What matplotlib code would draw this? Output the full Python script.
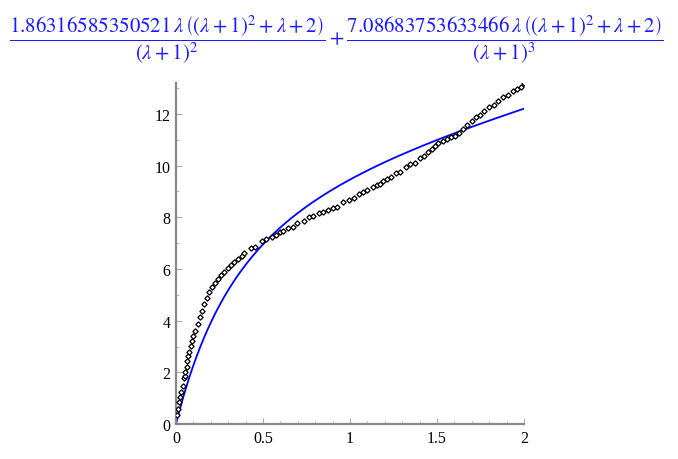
import numpy as np
import matplotlib
matplotlib.use("Agg")
import matplotlib.pyplot as plt
from matplotlib.ticker import MultipleLocator

# coefficients shown in the fitted formula
a_coef = 1.86316585350521
b_coef = 7.08683753633466

# measured points (black diamonds)
lam_pts = [0.004, 0.01, 0.015, 0.023, 0.029, 0.04, 0.046, 0.05, 0.054, 0.061,
           0.063, 0.069, 0.075, 0.088, 0.092, 0.10, 0.109, 0.125, 0.138, 0.148,
           0.163, 0.176, 0.19, 0.205, 0.224, 0.24, 0.259, 0.278, 0.297, 0.316,
           0.335, 0.358, 0.378, 0.393, 0.429, 0.454, 0.492, 0.517, 0.55, 0.575,
           0.598, 0.617, 0.645, 0.674, 0.697, 0.736, 0.766, 0.79, 0.82, 0.845,
           0.876, 0.9, 0.925, 0.962, 0.996, 1.023, 1.05, 1.072, 1.1, 1.13,
           1.153, 1.172, 1.19, 1.21, 1.235, 1.264, 1.287, 1.322, 1.345, 1.374,
           1.402, 1.425, 1.45, 1.469, 1.489, 1.508, 1.533, 1.556, 1.579, 1.603,
           1.628, 1.651, 1.674, 1.699, 1.724, 1.747, 1.77, 1.8, 1.828, 1.852,
           1.881, 1.91, 1.939, 1.962, 1.981, 2.0]
val_pts = [0.35, 0.58, 0.84, 1.03, 1.23, 1.48, 1.77, 1.87, 2.0, 2.19,
           2.45, 2.64, 2.8, 3.03, 3.22, 3.42, 3.61, 3.87, 4.13, 4.39,
           4.65, 4.87, 5.12, 5.29, 5.46, 5.61, 5.77, 5.9, 6.03, 6.16,
           6.28, 6.39, 6.49, 6.62, 6.81, 6.86, 7.1, 7.16, 7.25, 7.33,
           7.42, 7.48, 7.59, 7.64, 7.78, 7.86, 8.0, 8.07, 8.18, 8.19,
           8.3, 8.35, 8.39, 8.58, 8.68, 8.75, 8.92, 8.97, 9.07, 9.16,
           9.25, 9.29, 9.4, 9.47, 9.57, 9.73, 9.77, 9.94, 10.07, 10.1,
           10.28, 10.38, 10.51, 10.65, 10.78, 10.86, 10.95, 11.03, 11.1, 11.16,
           11.25, 11.42, 11.59, 11.74, 11.9, 11.97, 12.13, 12.26, 12.36, 12.49,
           12.64, 12.75, 12.88, 12.97, 13.06, 13.19]

x_ticks = [0, 0.5, 1, 1.5, 2]
x_tick_labels = ["0", "0.5", "1", "1.5", "2"]
y_ticks = [0, 2, 4, 6, 8, 10, 12]

# fitted curve from the formula in the title
lam = np.linspace(0, 2, 400)
core = lam * ((lam + 1) ** 2 + lam + 2)
fit = a_coef * core / (lam + 1) ** 2 + b_coef * core / (lam + 1) ** 3

plt.rcParams["mathtext.fontset"] = "stix"
plt.rcParams["font.family"] = ["Liberation Serif", "DejaVu Serif"]

fig = plt.figure(figsize=(6.78, 4.6), dpi=100)
ax = fig.add_axes([176 / 678, 35 / 460, 348 / 678, 341 / 460])

ax.plot(lam_pts, val_pts, linestyle="none", marker="D", markersize=2.7,
        markerfacecolor="white", markeredgecolor="black", markeredgewidth=0.9,
        zorder=3)
ax.plot(lam, fit, color="#0000ff", linewidth=1.3, zorder=2)

ax.set_xlim(0, 2)
ax.set_ylim(0, 13.2)
ax.set_xticks(x_ticks)
ax.set_xticklabels(x_tick_labels)
ax.set_yticks(y_ticks)
ax.xaxis.set_minor_locator(MultipleLocator(0.1))
ax.yaxis.set_minor_locator(MultipleLocator(1))

for side in ["top", "right"]:
    ax.spines[side].set_visible(False)
for side in ["left", "bottom"]:
    ax.spines[side].set_color("#888888")
    ax.spines[side].set_linewidth(1.6)

ax.tick_params(which="major", direction="in", length=4, color="#aaaaaa",
               labelsize=11.5, pad=4)
ax.tick_params(which="minor", direction="in", length=2.5, color="#aaaaaa")

formula = (r"$\dfrac{1.86316585350521\,\lambda\,\left(\left(\lambda+1\right)^{2}+\lambda+2\right)}"
           r"{\left(\lambda+1\right)^{2}}"
           r"+\dfrac{7.08683753633466\,\lambda\,\left(\left(\lambda+1\right)^{2}+\lambda+2\right)}"
           r"{\left(\lambda+1\right)^{3}}$")
fig.text(0.496, 1 - 40 / 460, formula, color="#1a1aff", fontsize=15,
         ha="center", va="center")

fig.savefig("out.png", dpi=100)
